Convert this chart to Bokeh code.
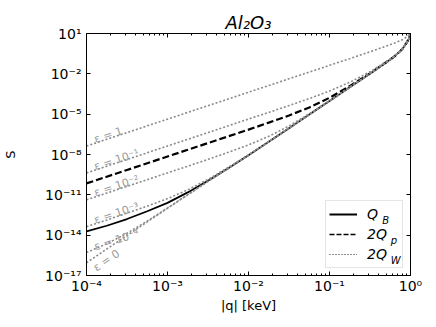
import math
import numpy as np
from bokeh.plotting import figure
from bokeh.models import (Range1d, FixedTicker, LogAxis, CustomJSTickFormatter,
                          Legend, LegendItem, Label, ColumnDataSource)
from bokeh.embed import file_html
from bokeh.resources import INLINE
from bokeh.core.properties import value

# ---------------- data (log10 values) ----------------
log_q = [-4, -3.75, -3.5, -3.25, -3, -2.75, -2.5, -2.25, -2, -1.75, -1.5,
         -1.25, -1, -0.75, -0.5, -0.3, -0.2, -0.1, -0.05, -0.02, 0]

logS_QB = [-13.72, -13.30, -12.80, -12.22, -11.60, -10.82, -9.95, -9.02, -8.05, -7.05,
           -6.05, -5.03, -4.02, -3.0, -2.0, -1.15, -0.72, -0.15, 0.3, 0.6, 1.0]
logS_2Qp = [-10.15, -9.65, -9.15, -8.65, -8.15, -7.65, -7.15, -6.65, -6.15, -5.63,
            -5.10, -4.50, -3.78, -2.91, -1.97, -1.14, -0.72, -0.15, 0.3, 0.6, 1.0]
logS_2QW_eps1 = [-7.37, -6.87, -6.37, -5.87, -5.37, -4.87, -4.37, -3.87, -3.37, -2.87,
                 -2.37, -1.87, -1.37, -0.87, -0.36, 0.06, 0.28, 0.53, 0.73, 0.90, 1.15]
logS_2QW_eps1m1 = [-9.37, -8.87, -8.37, -7.87, -7.37, -6.87, -6.37, -5.87, -5.36, -4.87,
                   -4.36, -3.84, -3.28, -2.63, -1.85, -1.09, -0.68, -0.13, 0.31, 0.60, 1.0]
logS_2QW_eps1m2 = [-11.37, -10.87, -10.37, -9.87, -9.37, -8.87, -8.36, -7.84, -7.29, -6.65,
                   -5.88, -4.97, -4.0, -2.99, -2.0, -1.15, -0.72, -0.15, 0.3, 0.6, 1.0]
logS_2QW_eps1m3 = [-13.37, -12.87, -12.36, -11.84, -11.28, -10.63, -9.85, -8.96, -8.03, -7.04,
                   -6.05, -5.03, -4.02, -3.0, -2.0, -1.15, -0.72, -0.15, 0.3, 0.6, 1.0]
logS_2QW_eps1m4 = [-15.29, -14.64, -13.86, -12.95, -11.98, -10.99, -10.0, -9.02, -8.05, -7.05,
                   -6.05, -5.03, -4.02, -3.0, -2.0, -1.15, -0.72, -0.15, 0.3, 0.6, 1.0]
logS_2QW_eps0 = [-16.05, -15.03, -14.02, -13.01, -12.0, -11.0, -10.0, -9.02, -8.05, -7.05,
                 -6.05, -5.03, -4.02, -3.0, -2.0, -1.15, -0.72, -0.15, 0.3, 0.6, 1.0]

eps_labels = ["ε = 1", "ε = 10⁻¹", "ε = 10⁻²", "ε = 10⁻³", "ε = 10⁻⁴", "ε = 0"]
eps_label_logS = [-6.89, -8.93, -10.87, -12.90, -14.89, -16.5]
eps_label_logq = -3.902

x_major = [1e-4, 1e-3, 1e-2, 1e-1, 1e0]
y_major = [1e1, 1e-2, 1e-5, 1e-8, 1e-11, 1e-14, 1e-17]

legend_labels = ["Q", "2Q", "2Q"]
legend_subs = ["B", "p", "W"]

# ---------------- figure ----------------
W, H = 434, 325
BL, BR, BT, BB = 72, 24, 33, 50
FW, FH = W - BL - BR, H - BT - BB
FONT = "DejaVu Sans"
GRAY = "#8a8a8a"

p = figure(x_axis_type="log", y_axis_type="log",
           x_range=Range1d(1e-4, 1), y_range=Range1d(1e-17, 1e1),
           width=W, height=H,
           min_border_left=BL, min_border_right=BR, min_border_top=BT, min_border_bottom=BB,
           output_backend="svg", toolbar_location=None, title="Al₂O₃")
p.title.align = "center"
p.title.text_font = FONT
p.title.text_font_style = "italic"
p.title.text_font_size = "18px"
p.title.text_color = "black"
p.title.standoff = 1
p.grid.visible = False
p.outline_line_color = None
p.background_fill_color = "white"
p.border_fill_color = "white"

x_minor = [m * 10.0 ** k for k in range(-4, 0) for m in range(2, 10)]
xt = FixedTicker(ticks=x_major, minor_ticks=x_minor)
yt = FixedTicker(ticks=y_major, minor_ticks=[])

sup_code = """
const sup = {'-':'\u207b','0':'\u2070','1':'\u00b9','2':'\u00b2','3':'\u00b3','4':'\u2074',
             '5':'\u2075','6':'\u2076','7':'\u2077','8':'\u2078','9':'\u2079'};
const e = Math.round(Math.log10(tick));
return '10' + String(e).split('').map(c => sup[c]).join('');
"""

def style_axis(ax):
    ax.axis_line_color = "black"
    ax.axis_line_width = 1
    ax.major_tick_in = 4
    ax.major_tick_out = 0
    ax.minor_tick_in = 2
    ax.minor_tick_out = 0
    ax.major_tick_line_color = "black"
    ax.minor_tick_line_color = "black"
    ax.major_label_text_font = FONT
    ax.major_label_text_font_size = "14px"
    ax.major_label_text_color = "black"
    ax.axis_label_text_font = FONT
    ax.axis_label_text_font_style = "normal"
    ax.axis_label_text_font_size = "13px"
    ax.axis_label_text_color = "black"

p.xaxis.ticker = xt
p.yaxis.ticker = yt
p.xaxis.formatter = CustomJSTickFormatter(code=sup_code)
p.yaxis.formatter = CustomJSTickFormatter(code=sup_code)
for ax in (p.xaxis[0], p.yaxis[0]):
    style_axis(ax)
p.xaxis.axis_label = "|q| [keV]"
p.yaxis.axis_label = "S"
p.xaxis.major_label_standoff = 2
p.xaxis.axis_label_standoff = 1
p.yaxis.major_label_standoff = 5
p.yaxis.axis_label_standoff = 24

top = LogAxis(ticker=xt)
right = LogAxis(ticker=yt)
for ax in (top, right):
    style_axis(ax)
    ax.major_label_text_font_size = "0px"
    ax.major_label_standoff = 0
    ax.formatter = CustomJSTickFormatter(code="return '';")
p.add_layout(top, "above")
p.add_layout(right, "right")

# ---------------- data lines ----------------
q = np.power(10.0, np.array(log_q))

def S(arr):
    return np.power(10.0, np.array(arr))

r_QB = p.line(q, S(logS_QB), line_color="black", line_width=1.8)
r_Qp = p.line(q, S(logS_2Qp), line_color="black", line_width=2.2, line_dash="7 3")
for arr in (logS_2QW_eps1, logS_2QW_eps1m1, logS_2QW_eps1m2,
            logS_2QW_eps1m3, logS_2QW_eps1m4, logS_2QW_eps0):
    p.line(q, S(arr), line_color=GRAY, line_width=1.6, line_dash="2 2")

# epsilon labels along the dotted lines
a_eps = math.atan(2 * (FH / 18.0) / (FW / 4.0))
a_eps0 = 0.6
lbl_src = ColumnDataSource(data=dict(
    x=[10 ** eps_label_logq] * len(eps_labels),
    y=list(S(eps_label_logS)),
    text=eps_labels,
    angle=[a_eps] * 5 + [a_eps0],
))
p.text(x="x", y="y", text="text", angle="angle", source=lbl_src,
       text_font=value(FONT), text_font_size=value("11px"), text_color="#9a9a9a",
       text_align="left", text_baseline="alphabetic")

# ---------------- legend (sample-only renderers, one undrawn NaN point) ----------------
def legend_src():
    return ColumnDataSource(data=dict(x=np.array([np.nan]), y=np.array([np.nan])))

lg_B = p.line("x", "y", source=legend_src(), line_color="black", line_width=2)
lg_p = p.line("x", "y", source=legend_src(), line_color="black", line_width=1.6, line_dash="5 2")
lg_W = p.line("x", "y", source=legend_src(), line_color="#222222", line_width=1.2, line_dash="1 2")

MARGIN, PAD, GW, GH, STAND, LW = 7, 3, 28, 20, 10, 32
leg = Legend(items=[LegendItem(label=legend_labels[0], renderers=[lg_B]),
                    LegendItem(label=legend_labels[1], renderers=[lg_p]),
                    LegendItem(label=legend_labels[2], renderers=[lg_W])],
             location="bottom_right", margin=MARGIN, padding=PAD, spacing=0,
             glyph_width=GW, glyph_height=GH, label_height=GH, label_width=LW,
             label_standoff=STAND, label_text_font=FONT, label_text_font_style="italic",
             label_text_font_size="14px", label_text_color="black",
             border_line_color="#cccccc", border_line_width=1,
             background_fill_color="white", background_fill_alpha=0.0)
p.add_layout(leg)

def frame_to_data(fx, fy):
    return 10 ** (-4 + fx / FW * 4.0), 10 ** (1 - fy / FH * 18.0)

# subscripts of the legend labels, placed right after the label text
box_left = FW - MARGIN - (2 * PAD + GW + STAND + LW)
box_top = FH - MARGIN - (2 * PAD + 3 * GH)
text_x = box_left + PAD + GW + STAND
label_adv = [12.4, 21.3, 21.3]
for i, txt in enumerate(legend_subs):
    fx = text_x + label_adv[i]
    fy = box_top + PAD + GH * (i + 0.5) + 5
    xx, yy = frame_to_data(fx, fy)
    p.add_layout(Label(x=xx, y=yy, text=txt, text_font=FONT, text_font_style="italic",
                       text_font_size="10px", text_color="black", level="overlay",
                       text_align="left", text_baseline="alphabetic"))

open("out.html", "w").write(file_html(p, INLINE))
